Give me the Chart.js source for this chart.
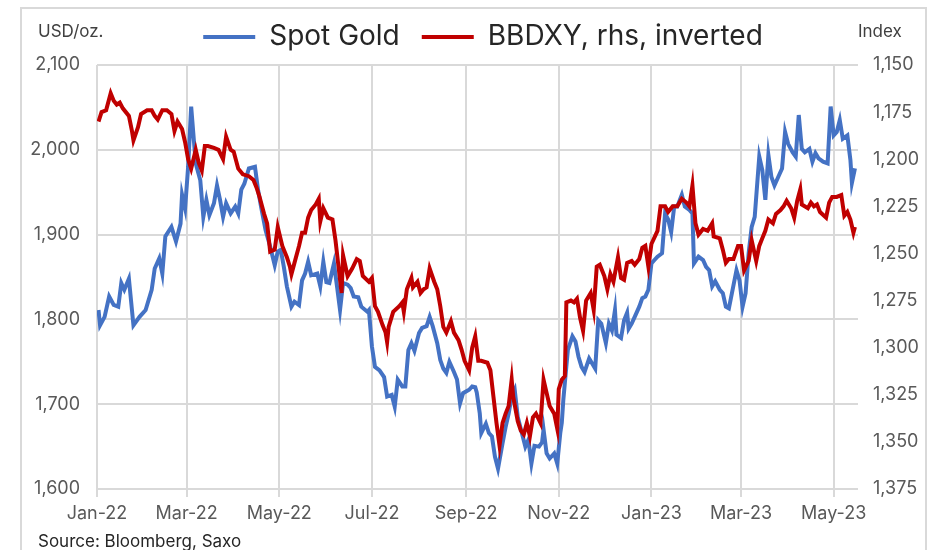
<!DOCTYPE html>
<html>
<head>
<meta charset="utf-8">
<script src="https://cdn.jsdelivr.net/npm/chart.js@4.4.0/dist/chart.umd.min.js"></script>
<style>
  html, body { margin: 0; padding: 0; background: #fff; }
  #wrap { position: relative; width: 944px; height: 550px; overflow: hidden; font-family: 'Inter', 'Roboto', sans-serif; }
  #frame { position: absolute; left: 20px; top: 7px; width: 907px; height: 600px; border: 2px solid #d9d9d9; box-sizing: border-box; }
  #cv { position: absolute; left: 0; top: 0; }
  .lbl { position: absolute; font-size: 17px; color: #404040; white-space: nowrap; }
</style>
</head>
<body>
<div id="wrap">
  <div id="frame"></div>
  <canvas id="cv" width="944" height="550"></canvas>
  <div class="lbl" style="left:38px;top:21px">USD/oz.</div>
  <div class="lbl" style="left:858px;top:21px">Index</div>
  <div class="lbl" style="left:38px;top:531px;color:#262626">Source: Bloomberg, Saxo</div>
</div>
<script>
// x axis: days since 1 Jan 2022
var START = Date.parse('2022-01-01');
var monthStarts = ['2022-01-01', '2022-03-01', '2022-05-01', '2022-07-01', '2022-09-01',
                   '2022-11-01', '2023-01-01', '2023-03-01', '2023-05-01'];
var monthLabels = ['Jan-22', 'Mar-22', 'May-22', 'Jul-22', 'Sep-22', 'Nov-22', 'Jan-23', 'Mar-23', 'May-23'];

// Spot gold, USD/oz (left axis)
var goldDay = [1, 2, 5, 8, 11, 14, 16, 18, 21, 24, 28, 32, 36, 38, 41, 43, 45, 49, 52, 55, 56, 58, 60, 62, 65, 68, 70, 72, 74, 77,
  79, 81, 83, 85, 88, 91, 93, 95, 97, 100, 104, 106, 108, 111, 114, 117, 119, 121, 123, 125, 128, 130, 133, 135, 137, 139, 141, 145,
  147, 149, 151, 153, 156, 158, 160, 162, 165, 167, 169, 172, 174, 178, 179, 181, 183, 186, 189, 191, 194, 196, 198, 201, 203, 205,
  207, 209, 212, 214, 217, 219, 221, 224, 226, 228, 230, 232, 235, 237, 239, 241, 245, 247, 249, 250, 252, 253, 256, 258, 260, 262,
  264, 267, 269, 271, 273, 275, 277, 280, 282, 284, 286, 288, 291, 293, 294, 296, 298, 301, 303, 305, 306, 307, 308, 310, 313, 315,
  317, 319, 321, 324, 326, 328, 330, 332, 335, 337, 339, 341, 342, 345, 347, 349, 350, 352, 354, 357, 359, 361, 363, 365, 367, 369,
  372, 374, 376, 378, 380, 382, 385, 387, 390, 392, 393, 396, 399, 401, 403, 405, 407, 410, 412, 414, 416, 418, 421, 423, 425, 427,
  429, 431, 433, 436, 438, 440, 442, 444, 446, 449, 451, 453, 455, 458, 460, 462, 464, 466, 469, 471, 473, 475, 478, 481, 483, 485,
  487, 489, 491, 494, 496, 497, 499];
var goldUsd = [1811, 1793, 1803, 1827, 1817, 1815, 1843, 1835, 1848, 1793, 1803, 1811, 1835, 1860, 1872, 1854, 1898, 1909, 1892, 1913,
  1947, 1931, 1980, 2051, 1984, 1964, 1921, 1941, 1923, 1937, 1958, 1941, 1921, 1937, 1925, 1933, 1925, 1953, 1960, 1978, 1980, 1953,
  1933, 1905, 1886, 1864, 1880, 1882, 1862, 1839, 1815, 1821, 1817, 1846, 1854, 1868, 1852, 1854, 1839, 1868, 1844, 1843, 1866, 1839,
  1811, 1843, 1841, 1837, 1827, 1826, 1815, 1809, 1811, 1768, 1744, 1740, 1732, 1709, 1711, 1697, 1729, 1721, 1721, 1764, 1772, 1763,
  1784, 1790, 1792, 1803, 1792, 1772, 1752, 1742, 1737, 1750, 1738, 1729, 1701, 1713, 1717, 1721, 1720, 1714, 1689, 1666, 1677, 1666,
  1662, 1638, 1624, 1654, 1673, 1689, 1709, 1717, 1685, 1664, 1650, 1658, 1630, 1651, 1650, 1655, 1670, 1642, 1636, 1642, 1630, 1666,
  1678, 1705, 1725, 1764, 1780, 1774, 1756, 1744, 1738, 1754, 1748, 1742, 1799, 1795, 1772, 1795, 1787, 1811, 1782, 1778, 1799, 1808,
  1789, 1795, 1803, 1815, 1825, 1827, 1835, 1866, 1870, 1874, 1878, 1925, 1918, 1903, 1933, 1933, 1947, 1933, 1929, 1925, 1866, 1874,
  1870, 1862, 1858, 1839, 1845, 1835, 1831, 1815, 1813, 1831, 1858, 1846, 1815, 1831, 1878, 1909, 1921, 1992, 1976, 1941, 1994, 1968,
  1958, 1970, 1978, 2021, 2007, 1997, 1992, 2041, 2001, 1997, 2001, 1986, 1996, 1990, 1986, 1984, 2051, 2017, 2021, 2035, 2013, 2017,
  1988, 1961, 1978];

// BBDXY index (right axis, inverted)
var dxyDay = [1, 3, 6, 9, 11, 13, 15, 17, 21, 23, 24, 27, 29, 33, 36, 38, 40, 43, 46, 49, 51, 53, 56, 58, 60, 62, 65, 67, 69, 71,
  73, 77, 80, 83, 85, 88, 90, 93, 96, 100, 103, 105, 107, 110, 112, 114, 117, 119, 122, 125, 127, 128, 130, 133, 135, 137, 139, 141,
  144, 146, 147, 149, 152, 155, 157, 159, 161, 162, 165, 168, 171, 173, 175, 179, 181, 183, 185, 188, 190, 191, 192, 195, 199, 201,
  202, 204, 207, 208, 211, 213, 215, 217, 219, 222, 224, 226, 228, 230, 233, 235, 238, 240, 242, 245, 247, 249, 251, 253, 257, 259,
  261, 263, 265, 267, 269, 271, 273, 274, 277, 279, 281, 283, 285, 287, 289, 292, 294, 296, 298, 301, 303, 304, 306, 308, 309, 312,
  314, 316, 318, 320, 322, 325, 327, 329, 331, 334, 336, 338, 340, 343, 345, 347, 349, 352, 354, 357, 359, 361, 363, 365, 369, 371,
  374, 376, 379, 382, 385, 388, 390, 392, 394, 396, 399, 402, 405, 406, 410, 412, 414, 416, 419, 422, 424, 426, 429, 431, 434, 436,
  438, 440, 442, 445, 447, 450, 452, 454, 457, 459, 461, 463, 464, 468, 470, 472, 474, 476, 480, 482, 484, 487, 490, 492, 494, 496,
  498, 499];
var dxyIdx = [1180, 1175, 1174, 1165, 1169, 1171, 1170, 1173, 1177, 1185, 1190, 1183, 1176, 1174, 1174, 1177, 1179, 1174, 1174, 1176,
  1185, 1180, 1184, 1191, 1200, 1205, 1195, 1202, 1206, 1193, 1193, 1194, 1195, 1200, 1188, 1195, 1196, 1205, 1208, 1209, 1211, 1215,
  1220, 1229, 1234, 1249, 1248, 1236, 1246, 1252, 1257, 1261, 1255, 1246, 1239, 1239, 1231, 1227, 1224, 1221, 1233, 1226, 1231, 1232,
  1243, 1257, 1271, 1251, 1262, 1258, 1253, 1254, 1262, 1265, 1263, 1278, 1281, 1288, 1292, 1297, 1289, 1281, 1278, 1276, 1281, 1269,
  1263, 1268, 1265, 1271, 1269, 1268, 1258, 1265, 1269, 1278, 1289, 1292, 1286, 1292, 1296, 1301, 1307, 1312, 1300, 1294, 1307, 1307,
  1308, 1312, 1326, 1340, 1352, 1340, 1335, 1331, 1317, 1326, 1339, 1344, 1346, 1340, 1347, 1337, 1335, 1340, 1317, 1324, 1331, 1335,
  1343, 1322, 1317, 1315, 1276, 1275, 1276, 1274, 1284, 1291, 1275, 1271, 1280, 1257, 1256, 1262, 1269, 1261, 1265, 1252, 1263, 1264,
  1255, 1254, 1256, 1253, 1247, 1246, 1257, 1245, 1238, 1225, 1225, 1228, 1225, 1225, 1221, 1223, 1225, 1214, 1234, 1240, 1237, 1238,
  1234, 1241, 1242, 1248, 1255, 1253, 1253, 1246, 1246, 1259, 1254, 1243, 1254, 1246, 1242, 1238, 1232, 1234, 1229, 1227, 1225, 1222,
  1226, 1231, 1222, 1216, 1224, 1226, 1223, 1225, 1224, 1228, 1231, 1223, 1220, 1220, 1219, 1230, 1228, 1232, 1239, 1236];

var BLUE = '#4472C4', RED = '#C00000', GRID = '#d9d9d9', INK = '#595959';
var PAD_L = 22, PAD_R = 0, PAD_B = 0;

function dayOf(s) { return Math.round((Date.parse(s) - START) / 864e5); }
function pts(days, vals) { return days.map(function (d, i) { return { x: d, y: vals[i] }; }); }
var tickDays = monthStarts.map(dayOf);

// a few px of air between the legend and the plot
var legendGap = {
  id: 'legendGap',
  beforeInit: function (chart) {
    var fit = chart.legend.fit;
    chart.legend.fit = function () { fit.call(this); this.height += 4; };
  }
};

new Chart(document.getElementById('cv'), {
  type: 'line',
  plugins: [legendGap],
  data: {
    datasets: [
      { label: 'Spot Gold', data: pts(goldDay, goldUsd), yAxisID: 'y', order: 1,
        borderColor: BLUE, backgroundColor: BLUE, borderWidth: 4, pointRadius: 0, tension: 0 },
      { label: 'BBDXY, rhs, inverted', data: pts(dxyDay, dxyIdx), yAxisID: 'y1', order: 0,
        borderColor: RED, backgroundColor: RED, borderWidth: 4, pointRadius: 0, tension: 0 }
    ]
  },
  options: {
    responsive: false, animation: false, parsing: false,
    layout: { padding: { left: PAD_L, right: PAD_R, top: 1, bottom: PAD_B } },
    plugins: {
      tooltip: { enabled: false },
      legend: {
        position: 'top',
        labels: {
          usePointStyle: true, pointStyle: 'line', pointStyleWidth: 52, padding: 22,
          color: '#262626', font: { family: 'Inter', size: 28 },
          sort: function (a, b) { return a.datasetIndex - b.datasetIndex; }
        }
      }
    },
    scales: {
      x: {
        type: 'linear', min: 0, max: 501,
        afterBuildTicks: function (s) { s.ticks = tickDays.map(function (v) { return { value: v }; }); },
        afterFit: function (s) { s.height = 61 - PAD_B; },
        grid: { color: GRID, lineWidth: 2, tickLength: 8 },
        border: { display: false },
        ticks: { color: INK, font: { family: 'Inter', size: 18 }, padding: 6, maxRotation: 0, autoSkip: false,
                 callback: function (v, i) { return monthLabels[i]; } }
      },
      y: {
        position: 'left', min: 1600, max: 2100,
        afterFit: function (s) { s.width = 97 - PAD_L; },
        grid: { color: GRID, lineWidth: 2, drawTicks: false },
        border: { display: false },
        ticks: { stepSize: 100, color: INK, font: { family: 'Inter', size: 18 }, padding: 17 }
      },
      y1: {
        position: 'right', min: 1150, max: 1375, reverse: true,
        afterFit: function (s) { s.width = 944 - 858 - PAD_R; },
        grid: { drawOnChartArea: false, drawTicks: false },
        border: { display: false },
        ticks: { stepSize: 25, color: INK, font: { family: 'Inter', size: 18 }, padding: 15 }
      }
    }
  }
});
</script>
</body>
</html>
